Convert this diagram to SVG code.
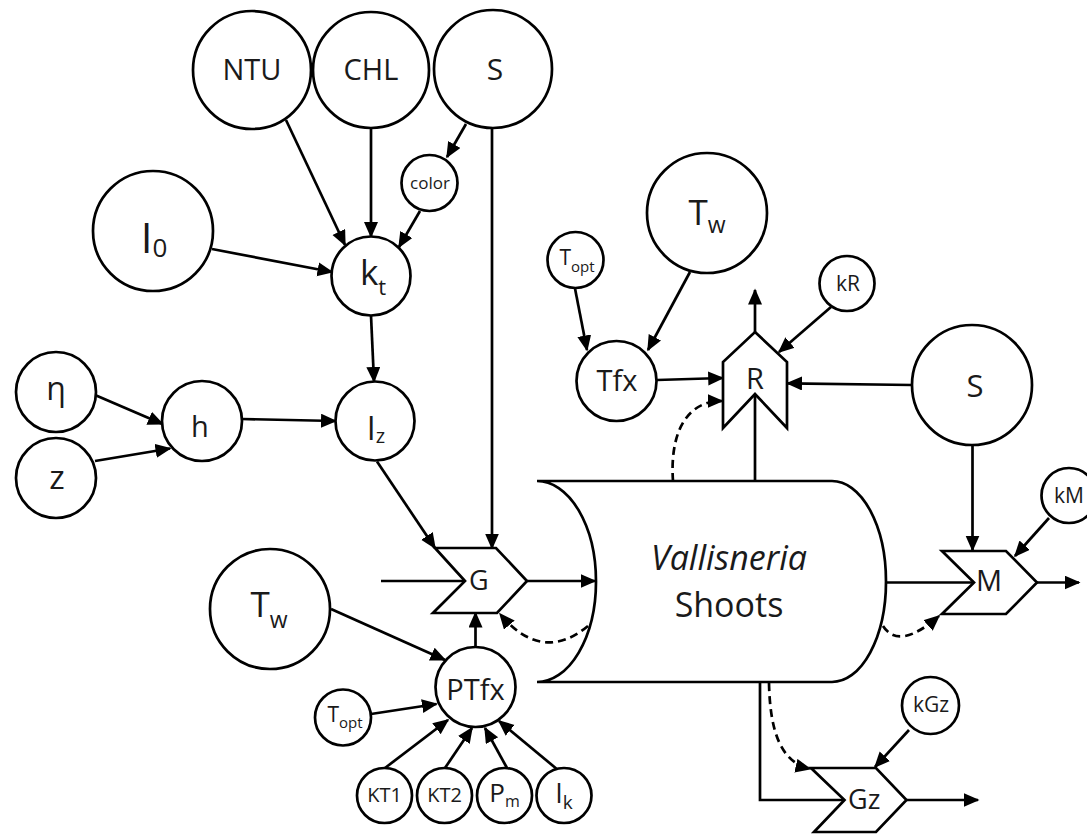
<svg xmlns="http://www.w3.org/2000/svg" width="1087" height="835" viewBox="0 0 1087 835">
<style>
  .n { fill: #fff; stroke: #000; stroke-width: 2.7; }
  .t { font-family: 'Open Sans', 'Noto Sans', 'DejaVu Sans', sans-serif; fill: #1a1a1a; }
  .c { fill: none; stroke: #000; stroke-width: 2.7; }
  .a { marker-end: url(#ah); }
  .d { stroke-dasharray: 8 5; }
</style>
<defs>
  <marker id="ah" markerUnits="userSpaceOnUse" markerWidth="18" markerHeight="16" refX="14.5" refY="7" orient="auto">
    <path d="M0,0 L16,7 L0,14 z" fill="#000"/>
  </marker>
</defs>
<rect width="1087" height="835" fill="#fff"/>

<g id="connectors">
  <line class="c a" x1="286" y1="120" x2="345" y2="245"/>
  <line class="c a" x1="371" y1="128" x2="371" y2="236.5"/>
  <line class="c a" x1="420" y1="211" x2="399" y2="247"/>
  <line class="c a" x1="466" y1="124" x2="447" y2="157"/>
  <line class="c a" x1="492" y1="128" x2="492" y2="548"/>
  <line class="c a" x1="212" y1="249" x2="332" y2="272"/>
  <line class="c a" x1="371" y1="315.5" x2="374" y2="381.5"/>
  <line class="c a" x1="95" y1="395" x2="162.5" y2="424"/>
  <line class="c a" x1="95" y1="461" x2="170" y2="448.5"/>
  <line class="c a" x1="242" y1="419" x2="335.5" y2="421"/>
  <line class="c a" x1="377" y1="461.5" x2="435" y2="548"/>
  <line class="c" x1="381" y1="581" x2="465" y2="581"/>
  <line class="c a" x1="527" y1="581" x2="595" y2="581"/>
  <line class="c a" x1="331" y1="609" x2="445" y2="660"/>
  <line class="c a" x1="371" y1="714" x2="436.5" y2="704"/>
  <line class="c a" x1="475.5" y1="647" x2="475.5" y2="613"/>
  <line class="c a" x1="385" y1="768" x2="448" y2="720"/>
  <line class="c a" x1="445" y1="768" x2="472" y2="728"/>
  <line class="c a" x1="507" y1="768" x2="485" y2="728"/>
  <line class="c a" x1="558" y1="770" x2="499" y2="721"/>
  <path class="c a d" d="M588,626 Q542,664 500,614"/>
  <line class="c a" x1="575" y1="288.5" x2="587" y2="350"/>
  <line class="c a" x1="690" y1="272" x2="648" y2="350"/>
  <line class="c a" x1="657" y1="380" x2="722.7" y2="378"/>
  <path class="c a d" d="M673,481 C670,440 682,401 722,401"/>
  <line class="c" x1="755" y1="481" x2="755" y2="394"/>
  <line class="c a" x1="755" y1="332" x2="755" y2="290"/>
  <line class="c a" x1="831" y1="307" x2="779" y2="352"/>
  <line class="c a" x1="912" y1="385" x2="787.5" y2="383.3"/>
  <line class="c a" x1="972.5" y1="445" x2="972.5" y2="550"/>
  <line class="c" x1="886" y1="582.5" x2="974" y2="582.5"/>
  <line class="c a" x1="1037" y1="582.5" x2="1079" y2="582.5"/>
  <line class="c a" x1="1049" y1="518" x2="1015" y2="556"/>
  <path class="c a d" d="M883,626 Q899,651 939,616"/>
  <path class="c" d="M760,682 V800 H844"/>
  <line class="c a" x1="906.5" y1="800" x2="978" y2="800"/>
  <line class="c a" x1="909" y1="730" x2="875" y2="767"/>
  <path class="c a d" d="M769,683 C770,730 780,762 810,769"/>
</g>

<g id="NTU"><circle class="n" cx="252" cy="70" r="59"/><text class="t" x="252" y="80" font-size="29" text-anchor="middle">NTU</text></g>
<g id="CHL"><circle class="n" cx="371" cy="70" r="58"/><text class="t" x="371" y="80" font-size="29" text-anchor="middle">CHL</text></g>
<g id="S_top"><circle class="n" cx="493" cy="69" r="59"/><text class="t" x="495" y="80" font-size="30" text-anchor="middle">S</text></g>
<g id="color"><circle class="n" cx="429.5" cy="183" r="28"/><text class="t" x="430" y="189" font-size="17" text-anchor="middle">color</text></g>
<g id="I0"><circle class="n" cx="153" cy="231" r="60"/><text class="t" x="154" y="253" font-size="42" text-anchor="middle">I<tspan font-size="26" dy="4">0</tspan></text></g>
<g id="kt"><circle class="n" cx="371" cy="276" r="39.5"/><text class="t" x="373" y="285" font-size="35" text-anchor="middle">k<tspan font-size="22" dy="10">t</tspan></text></g>
<g id="eta"><circle class="n" cx="56" cy="392" r="40"/><text class="t" x="56" y="400" font-size="32" text-anchor="middle">η</text></g>
<g id="z"><circle class="n" cx="56" cy="478" r="40"/><text class="t" x="57" y="489" font-size="33" text-anchor="middle">z</text></g>
<g id="h"><circle class="n" cx="202" cy="421" r="40"/><text class="t" x="200" y="437" font-size="29" text-anchor="middle">h</text></g>
<g id="Iz"><circle class="n" cx="375" cy="421" r="39.5"/><text class="t" x="376" y="440" font-size="32" text-anchor="middle">I<tspan font-size="20" dy="3">z</tspan></text></g>

<g id="G"><polygon class="n" points="435,548 496,548 527,581 497,613 433,613 465,581"/><text class="t" x="469" y="590" font-size="27">G</text></g>

<g id="Tw_left"><circle class="n" cx="270" cy="609" r="60"/><text class="t" x="269" y="617" font-size="35" text-anchor="middle">T<tspan font-size="23" dy="11">w</tspan></text></g>
<g id="PTfx"><circle class="n" cx="475.5" cy="687" r="40"/><text class="t" x="475.5" y="700" font-size="29" text-anchor="middle">PTfx</text></g>
<g id="Topt_left"><circle class="n" cx="343" cy="717.5" r="28"/><text class="t" x="345" y="722" font-size="21" text-anchor="middle">T<tspan font-size="15" dy="6">opt</tspan></text></g>
<g id="KT1"><circle class="n" cx="384.5" cy="795.5" r="27.5"/><text class="t" x="384.5" y="802" font-size="20" text-anchor="middle">KT1</text></g>
<g id="KT2"><circle class="n" cx="444.5" cy="795.5" r="27.5"/><text class="t" x="444.5" y="802" font-size="20" text-anchor="middle">KT2</text></g>
<g id="Pm"><circle class="n" cx="504.5" cy="795.5" r="27.5"/><text class="t" x="504.5" y="802" font-size="26" text-anchor="middle">P<tspan font-size="16" dy="5">m</tspan></text></g>
<g id="Ik"><circle class="n" cx="564" cy="795.5" r="27.5"/><text class="t" x="564" y="803" font-size="27" text-anchor="middle">I<tspan font-size="19" dy="6">k</tspan></text></g>

<g id="Shoots">
  <path class="n" d="M537,481 H832 A54,100.5 0 0 1 832,682 H537 A59,100.5 0 0 0 537,481 Z"/>
  <text class="t" x="729" y="570" font-size="34" font-style="italic" text-anchor="middle">Vallisneria</text>
  <text class="t" x="729" y="617" font-size="34" text-anchor="middle">Shoots</text>
</g>

<g id="Topt_top"><circle class="n" cx="575.5" cy="260" r="28"/><text class="t" x="577" y="265" font-size="21" text-anchor="middle">T<tspan font-size="15" dy="7">opt</tspan></text></g>
<g id="Tw_top"><circle class="n" cx="707" cy="213" r="60"/><text class="t" x="707" y="225" font-size="35" text-anchor="middle">T<tspan font-size="23" dy="8">w</tspan></text></g>
<g id="Tfx"><circle class="n" cx="616.5" cy="381" r="40"/><text class="t" x="617" y="391" font-size="29" text-anchor="middle">Tfx</text></g>
<g id="kR"><circle class="n" cx="847" cy="283.5" r="27.5"/><text class="t" x="848" y="291" font-size="21" text-anchor="middle">kR</text></g>
<g id="R"><polygon class="n" points="755,332 787,362 787,428 755,394 723,428 723,362"/><text class="t" x="755" y="389" font-size="29" text-anchor="middle">R</text></g>
<g id="S_right"><circle class="n" cx="972" cy="385" r="60"/><text class="t" x="975" y="397" font-size="31" text-anchor="middle">S</text></g>
<g id="M"><polygon class="n" points="942,551 1006,551 1037,582.5 1006,614 942,614 974,582.5"/><text class="t" x="976" y="591" font-size="29">M</text></g>
<g id="kM"><circle class="n" cx="1069" cy="495.5" r="27.5"/><text class="t" x="1069" y="503" font-size="21" text-anchor="middle">kM</text></g>
<g id="kGz"><circle class="n" cx="930.5" cy="705.5" r="28.5"/><text class="t" x="931" y="712" font-size="21" text-anchor="middle">kGz</text></g>
<g id="Gz"><polygon class="n" points="811,768 876,768 906.5,800 876,832 814,832 844.5,800"/><text class="t" x="848" y="809" font-size="27">Gz</text></g>
</svg>
